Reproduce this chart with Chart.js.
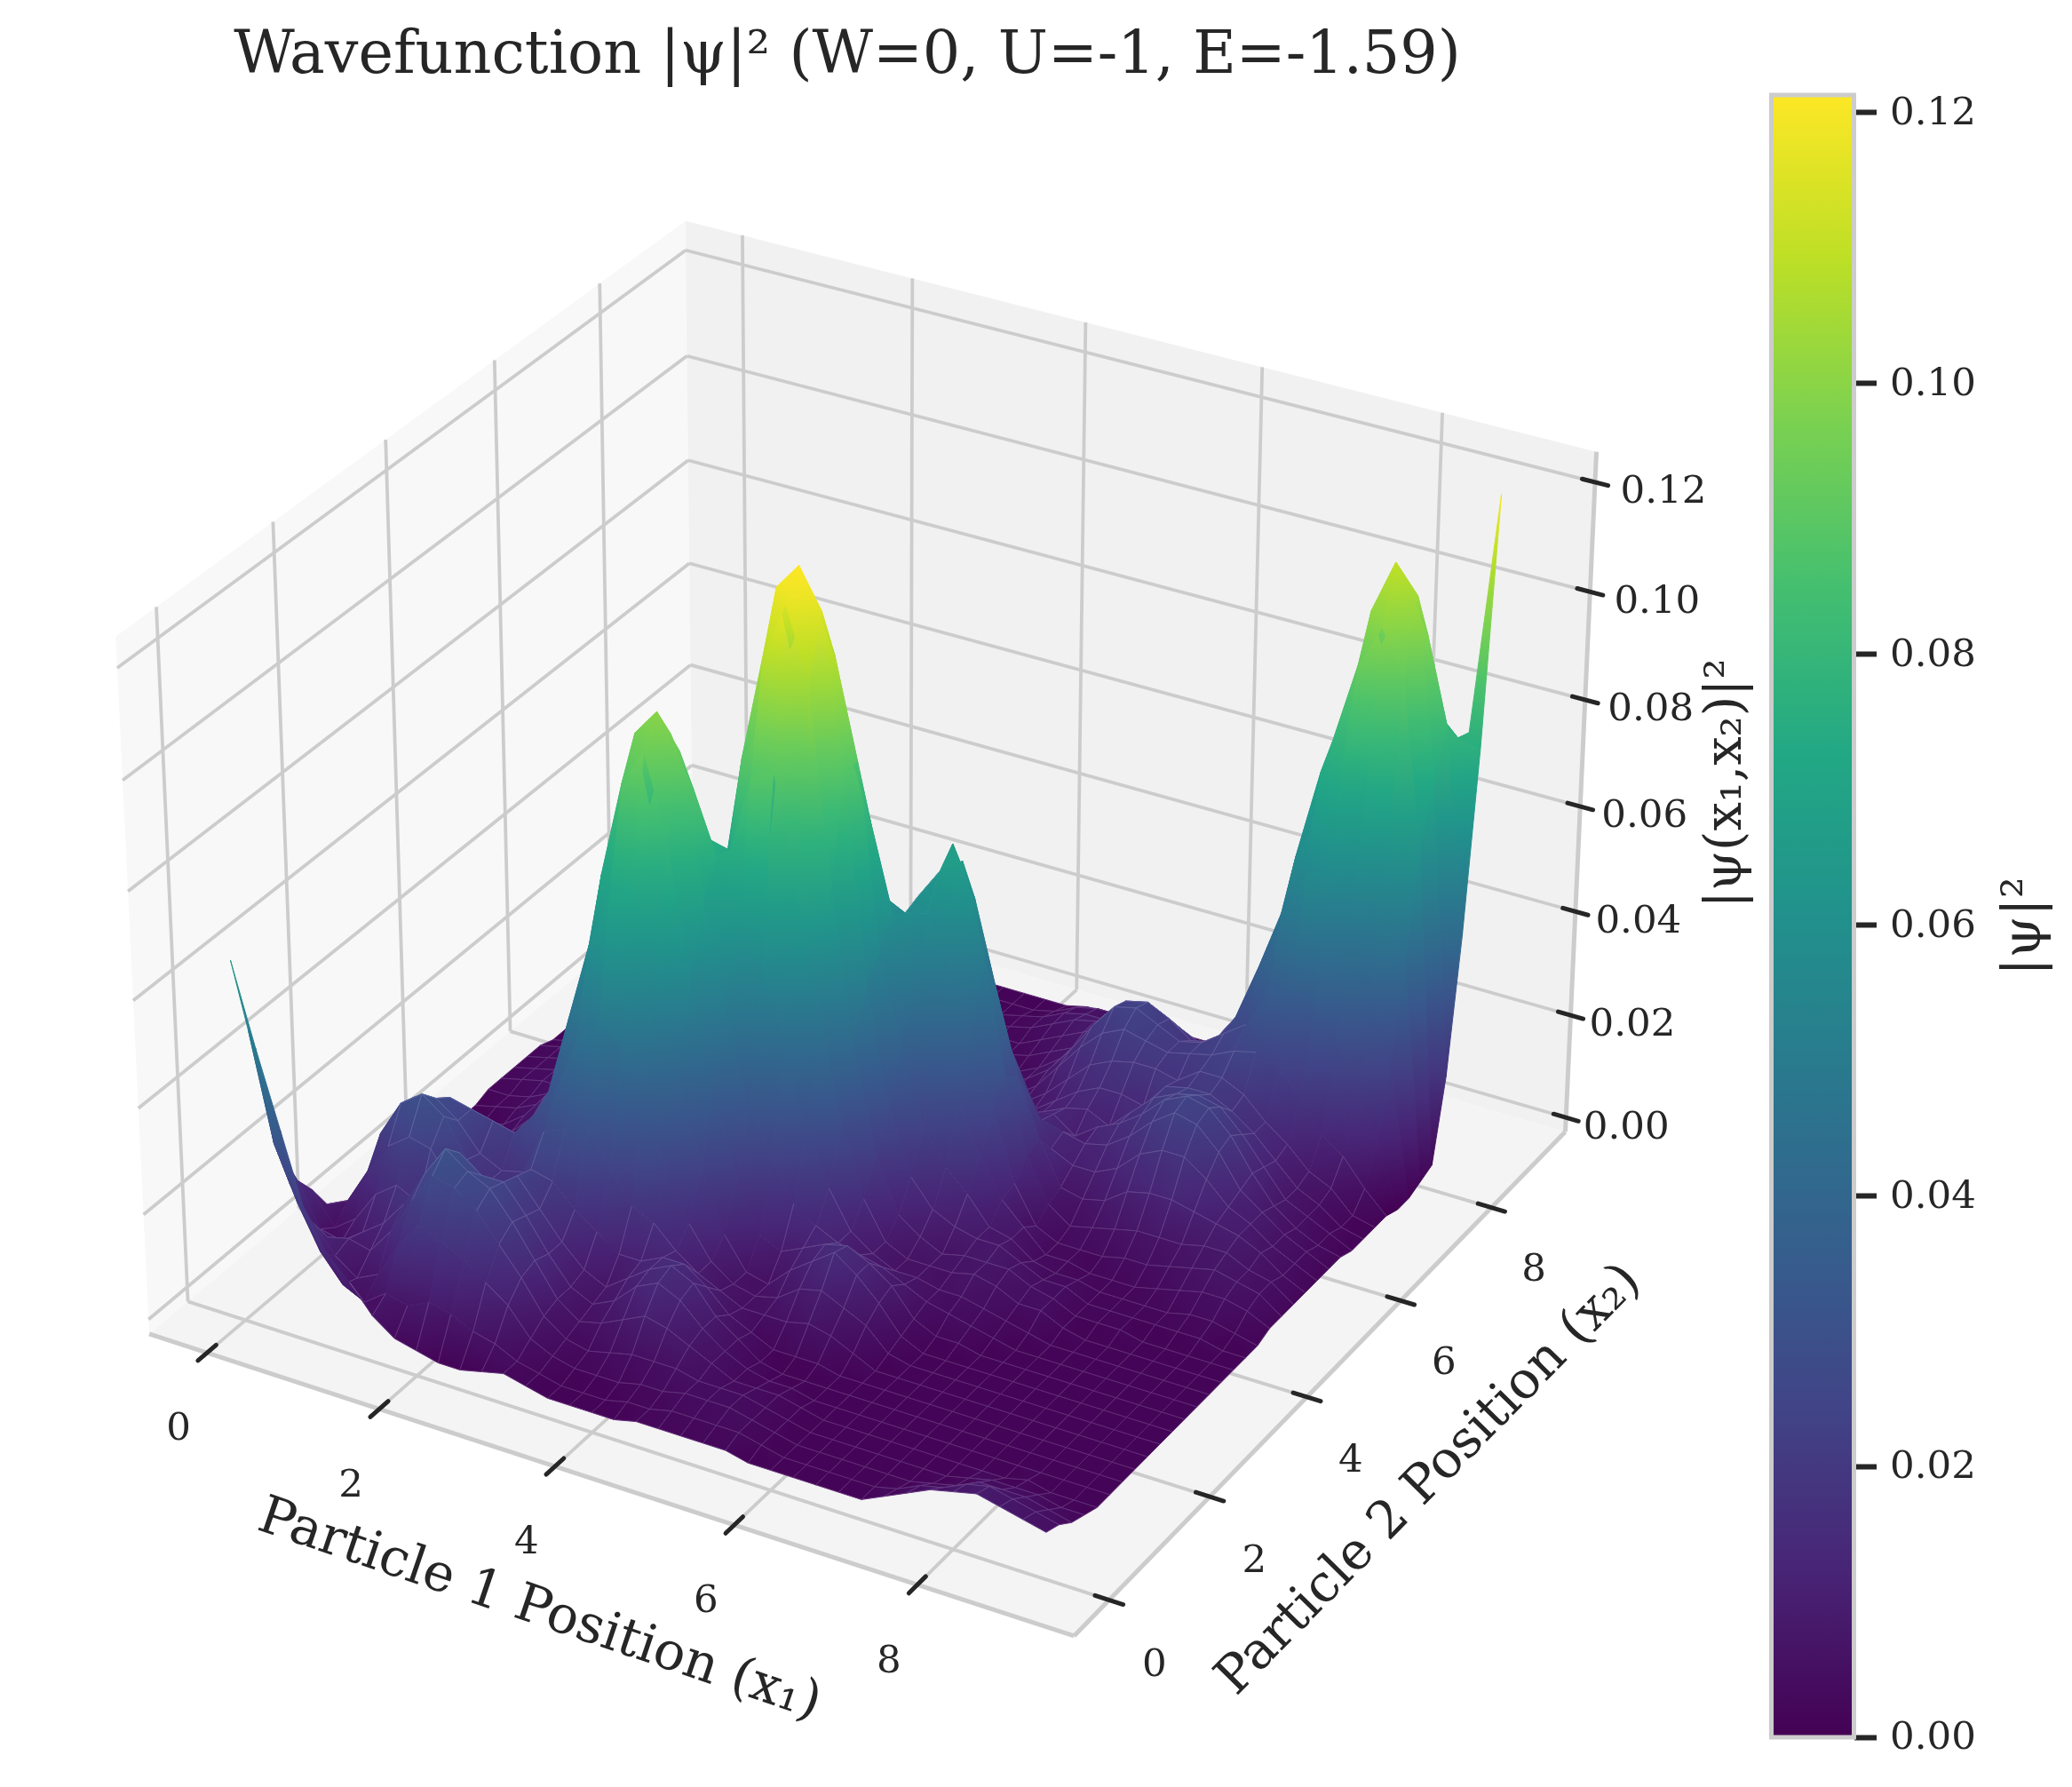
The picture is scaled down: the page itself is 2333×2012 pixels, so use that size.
<!DOCTYPE html>
<html>
<head>
<meta charset="utf-8">
<title>Wavefunction</title>
<script src="https://cdn.jsdelivr.net/npm/chart.js@4/dist/chart.umd.min.js"></script>
<style>
  html, body { margin: 0; background: #fff; }
  #wrap { position: relative; width: 2333px; height: 2012px; }
  canvas { position: absolute; top: 0; }
  #surface { left: 0; }
  #cbar { left: 1900px; }
</style>
</head>
<body>
<div id="wrap">
  <canvas id="surface" width="2333" height="2012"></canvas>
  <canvas id="cbar" width="433" height="2012"></canvas>
</div>
<script>
// grid positions of both particles
const positions = [0,0.25,0.5,0.75,1,1.25,1.5,1.75,2,2.25,2.5,2.75,3,3.25,3.5,3.75,4,4.25,4.5,4.75,5,5.25,5.5,5.75,6,6.25,6.5,6.75,7,7.25,7.5,7.75,8,8.25,8.5,8.75,9];
const x1Ticks = [0,2,4,6,8];
const x2Ticks = [0,2,4,6,8];
const zTicks = [0,0.02,0.04,0.06,0.08,0.1,0.12];
const cbarTicks = [0,0.02,0.04,0.06,0.08,0.1,0.12];
const zMax = 0.1213;

// |psi|^2, in 1e-3 units. psi is symmetric, row i holds x2 = positions[0..i]
const psiRows = [
[65],
[50,30],
[36,20,14],
[22,12,9,10],
[15,7,6,9,12],
[11,5,8,14,17,15],
[6,8,15,21,24,23,17],
[3,7,20,27,30,27,20,17],
[2,9,18,26,27,24,19,17,18],
[1,8,16,23,25,24,23,22,27,33],
[1,6,13,18,20,19,18,21,29,44,59],
[2,5,10,13,14,13,13,17,30,47,70,88],
[3,3,5,7,8,8,9,14,24,45,72,95,100],
[2,2,3,4,5,6,7,11,18,36,56,80,94,85],
[1,1,2,3,6,8,10,11,16,23,40,56,68,74,73],
[1,1,2,4,8,12,13,13,12,15,23,35,49,62,88,108],
[1,1,2,5,10,14,15,13,9,9,12,20,32,56,90,118,123],
[1,2,3,5,9,12,13,10,7,6,6,11,23,43,69,105,116,106],
[2,2,3,5,7,8,8,6,5,5,5,9,16,28,50,70,88,88,75],
[2,3,4,4,5,5,5,4,5,6,9,11,13,18,28,41,51,54,59,57],
[2,3,4,4,3,3,2,2,5,9,12,13,11,11,15,21,28,38,46,58,64],
[2,3,4,4,3,2,1,2,6,10,15,14,10,8,8,11,16,23,37,53,67,58],
[2,3,3,3,3,2,1,2,5,8,12,12,9,6,6,8,11,17,27,39,50,42,30],
[1,2,2,2,2,1,1,1,3,6,8,9,7,6,6,6,9,13,18,25,29,27,21,14],
[1,1,1,1,1,1,1,1,1,2,3,4,5,5,6,7,8,8,11,12,15,16,12,13,10],
[1,1,1,1,1,1,1,1,1,1,1,2,4,5,7,7,8,7,7,5,7,8,10,12,13,11],
[1,1,1,1,1,1,1,1,1,1,1,2,3,4,6,7,6,4,3,3,4,7,10,13,15,15,14],
[1,1,1,1,1,1,1,1,1,1,1,1,2,3,4,5,4,3,3,3,5,8,12,16,18,19,19,18],
[1,1,1,1,1,1,1,1,1,1,1,1,1,2,4,4,4,3,2,3,6,11,16,20,22,21,20,21,22],
[3,2,1,1,1,1,1,1,1,1,1,1,1,1,2,2,2,2,2,4,7,12,18,23,24,22,20,21,24,27],
[5,4,2,1,1,1,1,1,1,1,1,1,1,1,1,2,2,2,2,4,7,12,18,22,23,21,18,19,25,36,48],
[7,5,3,2,1,1,1,1,1,1,1,1,1,1,1,2,2,2,3,5,7,11,15,18,19,17,15,15,23,36,56,73],
[8,7,5,3,1,1,1,1,1,1,1,1,1,1,1,1,2,2,4,6,8,10,11,12,13,12,11,12,19,35,58,77,92],
[9,8,5,3,2,1,1,1,1,1,1,1,1,1,1,1,2,3,5,7,8,9,9,9,8,7,7,8,13,28,49,74,100,110],
[8,7,5,3,1,1,1,1,1,1,1,1,1,1,1,1,2,3,5,6,6,7,6,6,5,5,5,6,10,20,37,62,92,105,96],
[7,6,4,2,1,1,1,1,1,1,1,1,1,1,1,1,1,2,4,5,5,4,4,4,3,3,2,2,5,12,24,43,62,72,80,76],
[6,5,3,2,1,1,1,1,1,1,1,1,1,1,1,1,1,1,2,2,2,2,2,2,2,1,1,1,1,0,0,1,2,17,42,75,120]
];

const viridis = ['#440154','#482475','#414487','#355f8d','#2a788e','#21918c','#22a884','#44bf70','#7ad151','#bddf26','#fde725'];
const viridisRgb = viridis.map(h => [1,3,5].map(i => parseInt(h.substr(i,2),16)));

function colorFor(z) {
  const t = Math.min(1, Math.max(0, z / zMax)) * 10;
  const i = Math.min(9, Math.floor(t));
  const f = t - i;
  const a = viridisRgb[i], b = viridisRgb[i+1];
  return 'rgb(' + [0,1,2].map(k => Math.round(a[k] + (b[k]-a[k])*f)).join(',') + ')';
}

function psiAt(i, j) {
  return (i >= j ? psiRows[i][j] : psiRows[j][i]) / 1000;
}

// same view as a default mplot3d camera: elev 30, azim -60, dist 10
const xLim = [-0.68, 9.68];
const zLim = [-0.0028, 0.1255];
const box = [1.1905, 1.1905, 0.8929];
const camU = [0.866, 0.5, 0];
const camV = [-0.25, 0.433, 0.866];
const camW = [0.433, -0.75, 0.5];
const pxPerUnit = 10020, originX = 980, originY = 1007;

function toCam(x1, x2, z) {
  const d = [
    box[0] * ((x1 - xLim[0]) / (xLim[1] - xLim[0]) - 0.5),
    box[1] * ((x2 - xLim[0]) / (xLim[1] - xLim[0]) - 0.5),
    box[2] * ((z - zLim[0]) / (zLim[1] - zLim[0]) - 0.5)
  ];
  const dot = a => a[0]*d[0] + a[1]*d[1] + a[2]*d[2];
  const depth = 10 - dot(camW);
  return { x: dot(camU) / depth, y: dot(camV) / depth, depth: depth };
}

const datasets3d = [];

function addLine(a, b, color, width, cap) {
  const p = toCam(a[0], a[1], a[2]), q = toCam(b[0], b[1], b[2]);
  return {
    data: [{x: p.x, y: p.y}, {x: q.x, y: q.y}],
    showLine: true, pointRadius: 0, borderColor: color, borderWidth: width,
    borderCapStyle: cap || 'butt', clip: false
  };
}

function addPane(corners, color) {
  return {
    data: corners.map(c => { const p = toCam(c[0], c[1], c[2]); return {x: p.x, y: p.y}; }),
    showLine: false, pointRadius: 0, paneFill: color, clip: false
  };
}

// surface cells, near ones first because chart.js paints the last dataset first
const cells = [];
for (let i = 0; i < positions.length - 1; i++) {
  for (let j = 0; j < positions.length - 1; j++) {
    const idx = [[i,j],[i+1,j],[i+1,j+1],[i,j+1]];
    const zs = idx.map(v => psiAt(v[0], v[1]));
    const cam = idx.map((v, k) => toCam(positions[v[0]], positions[v[1]], zs[k]));
    cells.push({
      data: cam.map(c => ({x: c.x, y: c.y})),
      showLine: false, pointRadius: 0, clip: false,
      cellZ: zs,
      depth: cam.reduce((s, c) => s + c.depth, 0) / 4
    });
  }
}
cells.sort((a, b) => a.depth - b.depth);
cells.forEach(c => datasets3d.push(c));

const lo = xLim[0], hi = xLim[1], zb = zLim[0], zt = zLim[1];
const tickCol = '#262626', gridCol = '#cccccc';

// tick marks sit across the box edges
x1Ticks.forEach(t => datasets3d.push(addLine([t, lo-0.16, zb], [t, lo+0.16, zb], tickCol, 5, 'round')));
x2Ticks.forEach(t => datasets3d.push(addLine([hi-0.15, t, zb], [hi+0.15, t, zb], tickCol, 5, 'round')));
zTicks.forEach(t => datasets3d.push(addLine([hi-0.14, hi, t], [hi+0.14, hi, t], tickCol, 5, 'round')));

// box edges
datasets3d.push(addLine([lo,lo,zb],[hi,lo,zb],gridCol,5));
datasets3d.push(addLine([hi,lo,zb],[hi,hi,zb],gridCol,5));
datasets3d.push(addLine([hi,hi,zb],[hi,hi,zt],gridCol,5));

// grid on floor and two walls
x1Ticks.forEach(t => {
  datasets3d.push(addLine([t,lo,zb],[t,hi,zb],gridCol,3.8));
  datasets3d.push(addLine([t,hi,zb],[t,hi,zt],gridCol,3.8));
});
x2Ticks.forEach(t => {
  datasets3d.push(addLine([lo,t,zb],[hi,t,zb],gridCol,3.8));
  datasets3d.push(addLine([lo,t,zb],[lo,t,zt],gridCol,3.8));
});
zTicks.forEach(t => {
  datasets3d.push(addLine([lo,lo,t],[lo,hi,t],gridCol,3.8));
  datasets3d.push(addLine([lo,hi,t],[hi,hi,t],gridCol,3.8));
});

// panes
datasets3d.push(addPane([[lo,lo,zb],[hi,lo,zb],[hi,hi,zb],[lo,hi,zb]], '#f4f4f4'));
datasets3d.push(addPane([[lo,hi,zb],[hi,hi,zb],[hi,hi,zt],[lo,hi,zt]], '#f1f1f1'));
datasets3d.push(addPane([[lo,lo,zb],[lo,hi,zb],[lo,hi,zt],[lo,lo,zt]], '#f8f8f8'));

const serif = '"DejaVu Serif"';

function drawText(ctx, text, x, y, size, angle) {
  ctx.save();
  ctx.translate(x, y);
  ctx.rotate((angle || 0) * Math.PI / 180);
  ctx.font = size + 'px ' + serif;
  ctx.fillStyle = '#262626';
  ctx.textAlign = 'center';
  ctx.textBaseline = 'middle';
  ctx.fillText(text, 0, 0);
  ctx.restore();
}

const surfacePlugin = {
  id: 'surfacePlugin',
  afterDatasetDraw(chart, args) {
    const ds = chart.data.datasets[args.index];
    if (!ds.cellZ && !ds.paneFill) return;
    const pts = args.meta.data;
    const ctx = chart.ctx;
    ctx.save();
    ctx.beginPath();
    pts.forEach((p, i) => i ? ctx.lineTo(p.x, p.y) : ctx.moveTo(p.x, p.y));
    ctx.closePath();
    if (ds.paneFill) {
      ctx.fillStyle = ds.paneFill;
      ctx.fill();
    } else {
      let a = 0, b = 0;
      ds.cellZ.forEach((z, i) => {
        if (z < ds.cellZ[a]) a = i;
        if (z > ds.cellZ[b]) b = i;
      });
      const g = ctx.createLinearGradient(pts[a].x, pts[a].y, pts[b].x, pts[b].y + 0.01);
      for (let s = 0; s <= 4; s++) {
        g.addColorStop(s / 4, colorFor(ds.cellZ[a] + (ds.cellZ[b] - ds.cellZ[a]) * s / 4));
      }
      ctx.fillStyle = g;
      ctx.strokeStyle = g;
      ctx.lineWidth = 1;
      ctx.fill();
      ctx.stroke();
      // faint mesh lines only show on the gentle parts
      if (ds.cellZ[b] - ds.cellZ[a] < 0.009) {
        ctx.strokeStyle = 'rgba(215,205,240,0.22)';
        ctx.lineWidth = 0.9;
        ctx.stroke();
      }
    }
    ctx.restore();
  },
  afterDraw(chart) {
    const ctx = chart.ctx;
    const sx = chart.scales.x, sy = chart.scales.y;
    const px = c => [sx.getPixelForValue(c.x), sy.getPixelForValue(c.y)];
    x1Ticks.forEach(t => {
      const p = px(toCam(t, lo, zb));
      drawText(ctx, String(t), p[0] - 32, p[1] + 87, 43.5);
    });
    x2Ticks.forEach(t => {
      const p = px(toCam(hi, t, zb));
      drawText(ctx, String(t), p[0] + 51 - t * 0.4, p[1] + 74 - t * 0.4, 43.5);
    });
    zTicks.forEach(t => {
      const p = px(toCam(hi, hi, t));
      drawText(ctx, t.toFixed(2), p[0] + 68 + t * 75, p[1] + 12, 43.5);
    });
    drawText(ctx, 'Wavefunction |ψ|² (W=0, U=-1, E=-1.59)', 954, 65, 66.7);
    drawText(ctx, 'Particle 1 Position (x₁)', 607, 1814, 59, 18.8);
    drawText(ctx, 'Particle 2 Position (x₂)', 1610, 1667, 58, -45.5);
    drawText(ctx, '|ψ(x₁,x₂)|²', 1945, 882, 57.5, -90);
  }
};

new Chart(document.getElementById('surface'), {
  type: 'scatter',
  data: { datasets: datasets3d },
  options: {
    responsive: false,
    devicePixelRatio: 1,
    animation: false,
    events: [],
    parsing: false,
    layout: { padding: 0 },
    plugins: { legend: { display: false }, tooltip: { enabled: false } },
    scales: {
      x: { type: 'linear', display: false, min: -originX / pxPerUnit, max: (2333 - originX) / pxPerUnit },
      y: { type: 'linear', display: false, min: (originY - 2012) / pxPerUnit, max: originY / pxPerUnit }
    }
  },
  plugins: [surfacePlugin]
});

const cbarFrame = {
  id: 'cbarFrame',
  afterDraw(chart) {
    const a = chart.chartArea, ctx = chart.ctx;
    ctx.save();
    ctx.strokeStyle = gridCol;
    ctx.lineWidth = 5;
    ctx.strokeRect(a.left, a.top, a.right - a.left, a.bottom - a.top);
    ctx.restore();
    drawText(ctx, '|ψ|²', 381, 1043, 60, -90);
  }
};

new Chart(document.getElementById('cbar'), {
  type: 'bar',
  data: {
    labels: ['|ψ|²'],
    datasets: [{
      data: [[0, zMax]],
      barPercentage: 1,
      categoryPercentage: 1,
      backgroundColor(c) {
        const a = c.chart.chartArea;
        if (!a) return viridis[0];
        const g = c.chart.ctx.createLinearGradient(0, a.bottom, 0, a.top);
        viridis.forEach((col, i) => g.addColorStop(i / 10, col));
        return g;
      }
    }]
  },
  options: {
    responsive: false,
    devicePixelRatio: 1,
    animation: false,
    events: [],
    layout: { padding: { left: 94.5, top: 107, bottom: 56, right: 0 } },
    plugins: { legend: { display: false }, tooltip: { enabled: false } },
    scales: {
      x: { display: false },
      y: {
        position: 'right',
        min: 0,
        max: zMax,
        afterBuildTicks(s) { s.ticks = cbarTicks.map(v => ({ value: v })); },
        afterFit(s) { s.width = 245.5; },
        border: { display: false },
        grid: { drawOnChartArea: false, tickLength: 25.5, tickColor: tickCol, tickWidth: 6 },
        ticks: {
          padding: 15,
          color: tickCol,
          labelOffset: 2,
          font: { family: serif, size: 43.5 },
          callback: v => v.toFixed(2)
        }
      }
    }
  },
  plugins: [cbarFrame]
});
</script>
</body>
</html>
